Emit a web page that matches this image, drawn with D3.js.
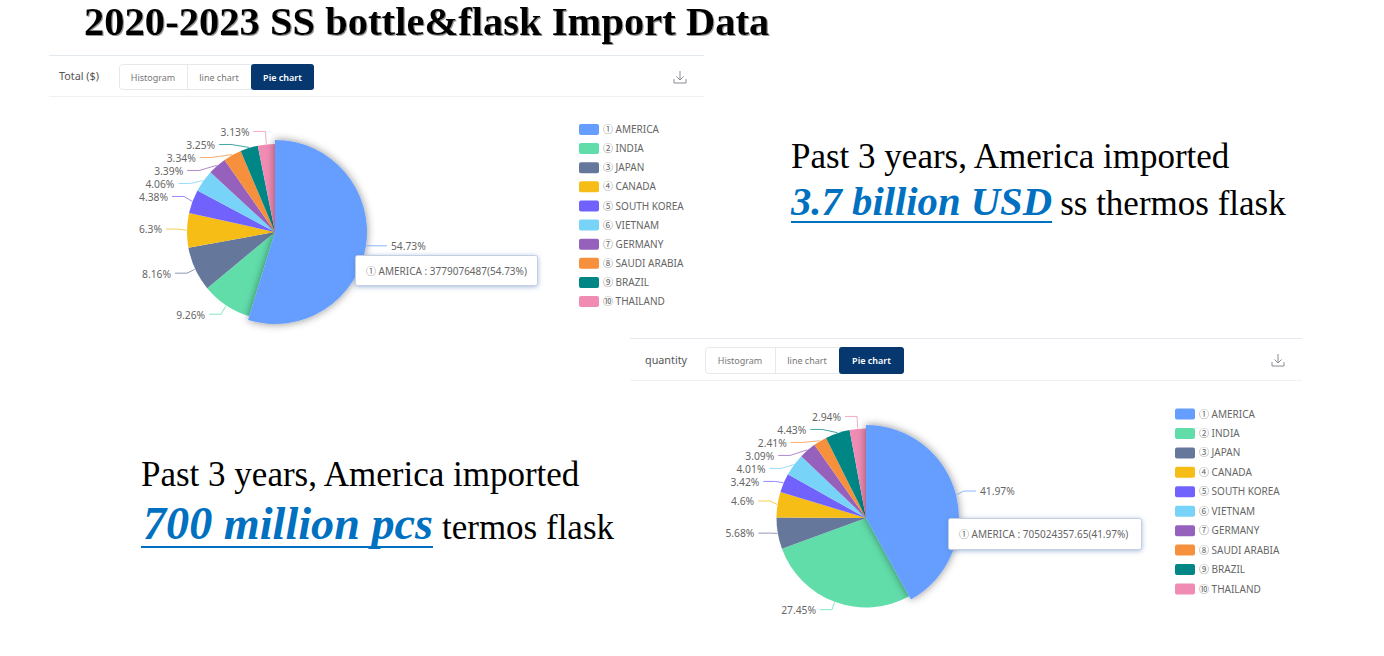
<!DOCTYPE html>
<html><head><meta charset="utf-8">
<script src="https://cdn.jsdelivr.net/npm/d3@7/dist/d3.min.js"></script>
<style>
html,body{margin:0;padding:0;background:#fff;overflow:hidden}
svg{display:block}
text{font-family:"Noto Sans",sans-serif}
.serif{font-family:"Liberation Serif",serif}
</style></head><body>
<svg id="c" width="1384" height="656"></svg>
<script>
const categories = ["① AMERICA","② INDIA","③ JAPAN","④ CANADA","⑤ SOUTH KOREA","⑥ VIETNAM","⑦ GERMANY","⑧ SAUDI ARABIA","⑨ BRAZIL","⑩ THAILAND"];
const totalShares = [54.73,9.26,8.16,6.3,4.38,4.06,3.39,3.34,3.25,3.13];
const quantityShares = [41.97,27.45,5.68,4.6,3.42,4.01,3.09,2.41,4.43,2.94];
const sliceColors = ["#659EFF","#61DDAA","#65789B","#F6BD16","#7262FD","#78D3F8","#9661BC","#F6903D","#008685","#F08BB4"];
const tabs = ["Histogram","line chart","Pie chart"];
const panels = [
 {name:"Total ($)", shares:totalShares, tip:"① AMERICA : 3779076487(54.73%)",
  x0:49,x1:704,yTop:55,yBot:96,nameX:59,tabX:[119,187,251,314],tabY:[64,90],icon:[680,77],
  cx:275,cy:232,r:88,rHi:92,labelDy:-1,legendX:579,legendY:[129.5,301.5],tipBox:[355,255,183,31]},
 {name:"quantity", shares:quantityShares, tip:"① AMERICA : 705024357.65(41.97%)",
  x0:630,x1:1302,yTop:338,yBot:380,nameX:645,tabX:[705,775,839,904],tabY:[347,374],icon:[1278,360],
  cx:866,cy:518,r:89.5,rHi:93,labelDy:-2,legendX:1175,legendY:[414,589],tipBox:[948,518,194,32]}
];
const svg = d3.select("#c");
const defs = svg.append("defs");
const sh = defs.append("filter").attr("id","sliceShadow").attr("x","-30%").attr("y","-30%").attr("width","160%").attr("height","160%");
sh.append("feDropShadow").attr("dx",0).attr("dy",0).attr("stdDeviation",4).attr("flood-color","#000").attr("flood-opacity",0.45);
const ts = defs.append("filter").attr("id","tipShadow").attr("x","-10%").attr("y","-30%").attr("width","120%").attr("height","160%");
ts.append("feDropShadow").attr("dx",0).attr("dy",1).attr("stdDeviation",2.5).attr("flood-color","#5B7FB8").attr("flood-opacity",0.55);
const tt = defs.append("filter").attr("id","titleShadow").attr("x","-2%").attr("y","-10%").attr("width","104%").attr("height","120%");
tt.append("feDropShadow").attr("dx",1).attr("dy",1).attr("stdDeviation",0.6).attr("flood-color","#8a8a8a").attr("flood-opacity",0.9);

// Title
svg.append("text").attr("class","serif").attr("x",84).attr("y",35)
  .attr("font-size",40.6).attr("font-weight","bold").attr("fill","#000").attr("filter","url(#titleShadow)")
  .text("2020-2023 SS bottle&flask Import Data");

// Captions
function caption(x,xs,y1,y2,line1,strong,strongSize,rest,restSize,gap,ul){
  svg.append("text").attr("class","serif").attr("x",x).attr("y",y1).attr("font-size",35).attr("fill","#000").text(line1);
  const s = svg.append("text").attr("class","serif").attr("x",xs).attr("y",y2)
    .attr("font-size",strongSize).attr("font-weight","bold").attr("font-style","italic").attr("fill","#0070C0").text(strong);
  const w = s.node().getComputedTextLength();
  svg.append("line").attr("x1",x).attr("x2",xs+w).attr("y1",y2+ul).attr("y2",y2+ul).attr("stroke","#0070C0").attr("stroke-width",2);
  svg.append("text").attr("class","serif").attr("x",xs+w+gap).attr("y",y2).attr("font-size",restSize).attr("fill","#000").text(rest);
}
caption(791,791,168,215,"Past 3 years, America imported","3.7 billion USD",40.7,"ss thermos flask",35,8,7);
caption(141,143,486,539,"Past 3 years, America imported","700 million pcs",46.2,"termos flask",35,9,8);

// A circled numeral is set in the CJK face, as full-width glyph
function withNumeral(sel,str){
  const i=str.indexOf(" ");
  sel.append("tspan").attr("font-family","'Noto Sans CJK SC'").text(str.slice(0,i));
  sel.append("tspan").text(str.slice(i));
}

panels.forEach(p=>{
  const g = svg.append("g");
  [p.yTop,p.yBot].forEach((y,i)=>g.append("line").attr("x1",p.x0).attr("x2",p.x1).attr("y1",y+.5).attr("y2",y+.5)
    .attr("stroke",i? "#f0f1f3":"#e3e9ef"));
  g.append("text").attr("x",p.nameX).attr("y",(p.tabY[0]+p.tabY[1])/2).attr("dy","0.3em").attr("font-size",10.8).attr("fill","#555").text(p.name);
  const h = p.tabY[1]-p.tabY[0];
  g.append("rect").attr("x",p.tabX[0]+.5).attr("y",p.tabY[0]+.5).attr("width",p.tabX[3]-p.tabX[0]-1).attr("height",h-1)
    .attr("rx",3).attr("fill","#fff").attr("stroke","#e6e8eb");
  g.append("line").attr("x1",p.tabX[1]+.5).attr("x2",p.tabX[1]+.5).attr("y1",p.tabY[0]).attr("y2",p.tabY[1]).attr("stroke","#e6e8eb");
  g.append("rect").attr("x",p.tabX[2]).attr("y",p.tabY[0]).attr("width",p.tabX[3]-p.tabX[2]).attr("height",h).attr("rx",3).attr("fill","#07376F");
  tabs.forEach((t,i)=>g.append("text").attr("x",(p.tabX[i]+p.tabX[i+1])/2).attr("y",(p.tabY[0]+p.tabY[1])/2).attr("dy","0.4em")
    .attr("text-anchor","middle").attr("font-size",9).attr("font-weight",i===2?600:400).attr("fill",i===2?"#fff":"#777").text(t));
  const ic = g.append("g").attr("transform",`translate(${p.icon[0]},${p.icon[1]})`).attr("fill","none").attr("stroke","#8a8f96").attr("stroke-width",1);
  ic.append("path").attr("d","M0,-6V3M-3.5,-0.5L0,3L3.5,-0.5M-6,2V6H6V2");

  // pie
  const pie = d3.pie().sort(null).value(d=>d)(p.shares);
  const rLabelY = 100, rLabelX = 97;
  const arc = d3.arc().innerRadius(0).outerRadius(p.r);
  const arcHi = d3.arc().innerRadius(0).outerRadius(p.rHi);
  const pg = g.append("g").attr("transform",`translate(${p.cx},${p.cy})`);
  pie.slice(1).forEach(d=>pg.append("path").attr("d",arc(d)).attr("fill",sliceColors[d.index]));
  pg.append("path").attr("d",arcHi(pie[0])).attr("fill",sliceColors[0]).attr("filter","url(#sliceShadow)");

  // label layout: desired y on a circle, pushed down from the top on each side
  const items = pie.map(d=>{
    const a=(d.startAngle+d.endAngle)/2;
    return {d,a,right:Math.sin(a)>=0,y:-Math.cos(a)*rLabelY,r:d.index===0?p.rHi:p.r};
  });
  [true,false].forEach(side=>{
    const list = items.filter(o=>o.right===side).sort((a,b)=>a.y-b.y);
    let prev=-Infinity;
    list.forEach(o=>{o.ly=Math.max(o.y+p.labelDy,prev+13);prev=o.ly;});
  });
  const lg = pg.append("g");
  items.forEach(o=>{
    const sgn=o.right?1:-1;
    const dy=o.ly-p.labelDy;
    const circ=Math.sqrt(Math.max(0,rLabelX*rLabelX-dy*dy));
    const ex=sgn*(Math.max(circ,rLabelX*Math.abs(Math.sin(o.a)))+(o.d.index===0?4:0));
    const sx=Math.sin(o.a)*(o.r+.5), sy=-Math.cos(o.a)*(o.r+.5);
    const col=sliceColors[o.d.index];
    lg.append("path").attr("d",d3.line()([[sx,sy],[ex,o.ly],[ex+sgn*12,o.ly]]))
      .attr("fill","none").attr("stroke",col).attr("stroke-width",1).attr("stroke-opacity",0.75);
    lg.append("text").attr("x",ex+sgn*16).attr("y",o.ly).attr("dy","0.42em")
      .attr("text-anchor",o.right?"start":"end").attr("font-size",10.3).attr("fill","#666").text(o.d.data+"%");
  });

  // legend
  const ly = d3.scalePoint().domain(categories).range(p.legendY);
  categories.forEach((c,i)=>{
    g.append("rect").attr("x",p.legendX).attr("y",ly(c)-5.5).attr("width",20).attr("height",11).attr("rx",2).attr("fill",sliceColors[i]);
    g.append("text").attr("x",p.legendX+24).attr("y",ly(c)).attr("dy","0.36em").attr("font-size",10).attr("fill","#666").call(withNumeral,c);
  });

  // tooltip
  const b=p.tipBox;
  g.append("rect").attr("x",b[0]+.5).attr("y",b[1]+.5).attr("width",b[2]-1).attr("height",b[3]-1).attr("rx",2)
    .attr("fill","#fff").attr("stroke","#c3cfe4").attr("filter","url(#tipShadow)");
  g.append("text").attr("x",b[0]+11).attr("y",b[1]+b[3]/2).attr("dy","0.42em").attr("font-size",10).attr("fill","#666").call(withNumeral,p.tip);
});
</script>
</body></html>
